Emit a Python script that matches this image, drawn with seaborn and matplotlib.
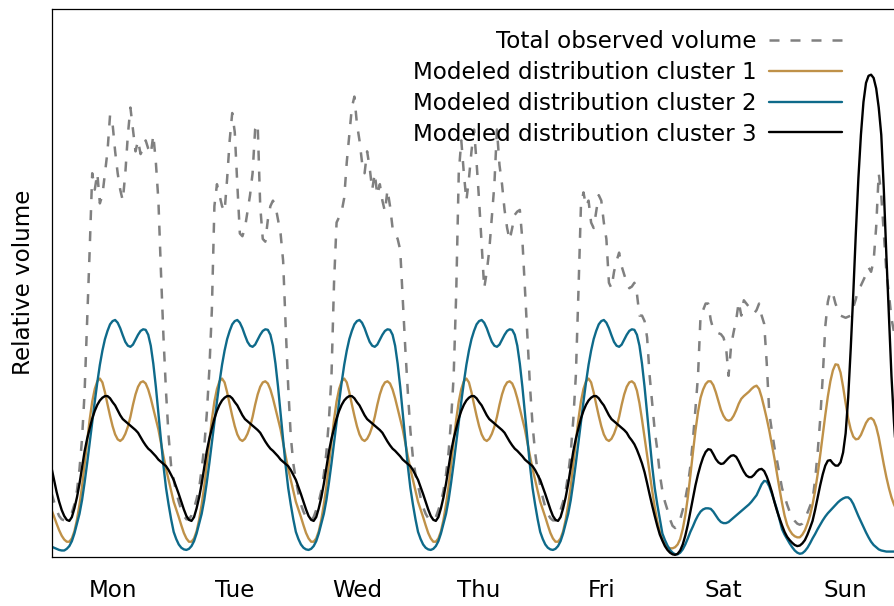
import numpy as np
import pandas as pd
import matplotlib
matplotlib.use("Agg")
import matplotlib.pyplot as plt
import seaborn as sns

DAYS = ["Mon", "Tue", "Wed", "Thu", "Fri", "Sat", "Sun"]

# Total observed volume, half-hourly values for each day (00:00 .. 23:30)
OBS_MON = [0.116, 0.100, 0.085, 0.074, 0.068, 0.066, 0.068, 0.072, 0.080, 0.095, 0.120, 0.160,
           0.215, 0.300, 0.430, 0.560, 0.700, 0.670, 0.700, 0.645, 0.660, 0.700, 0.740, 0.806,
           0.790, 0.740, 0.700, 0.670, 0.650, 0.700, 0.770, 0.820, 0.780, 0.740, 0.760, 0.735,
           0.745, 0.760, 0.745, 0.735, 0.770, 0.720, 0.650, 0.520, 0.400, 0.300, 0.220, 0.165]
OBS_TUE = [0.140, 0.118, 0.100, 0.085, 0.074, 0.068, 0.068, 0.075, 0.088, 0.105, 0.125, 0.160,
           0.200, 0.260, 0.340, 0.450, 0.640, 0.680, 0.660, 0.640, 0.630, 0.690, 0.760, 0.810,
           0.775, 0.680, 0.590, 0.585, 0.600, 0.630, 0.660, 0.700, 0.780, 0.790, 0.640, 0.580,
           0.575, 0.615, 0.640, 0.650, 0.640, 0.615, 0.590, 0.540, 0.420, 0.310, 0.220, 0.170]
OBS_WED = [0.140, 0.115, 0.095, 0.082, 0.072, 0.066, 0.066, 0.072, 0.085, 0.100, 0.120, 0.150,
           0.190, 0.250, 0.330, 0.500, 0.610, 0.620, 0.630, 0.655, 0.720, 0.770, 0.820, 0.840,
           0.790, 0.760, 0.720, 0.700, 0.740, 0.710, 0.670, 0.700, 0.660, 0.680, 0.650, 0.630,
           0.670, 0.640, 0.600, 0.590, 0.580, 0.560, 0.470, 0.380, 0.300, 0.230, 0.180, 0.150]
OBS_THU = [0.130, 0.108, 0.090, 0.078, 0.070, 0.066, 0.066, 0.072, 0.085, 0.100, 0.120, 0.150,
           0.190, 0.250, 0.330, 0.480, 0.700, 0.760, 0.700, 0.650, 0.690, 0.740, 0.780, 0.720,
           0.650, 0.570, 0.490, 0.520, 0.560, 0.620, 0.680, 0.780, 0.715, 0.680, 0.633, 0.600,
           0.578, 0.600, 0.624, 0.630, 0.633, 0.578, 0.490, 0.400, 0.310, 0.240, 0.190, 0.155]
OBS_FRI = [0.130, 0.108, 0.090, 0.078, 0.070, 0.066, 0.066, 0.072, 0.085, 0.100, 0.120, 0.150,
           0.190, 0.250, 0.330, 0.480, 0.640, 0.665, 0.640, 0.650, 0.610, 0.600, 0.630, 0.660,
           0.650, 0.610, 0.580, 0.500, 0.490, 0.520, 0.540, 0.555, 0.530, 0.515, 0.500, 0.490,
           0.493, 0.500, 0.480, 0.440, 0.440, 0.430, 0.400, 0.330, 0.280, 0.230, 0.195, 0.150]
OBS_SAT = [0.120, 0.100, 0.085, 0.068, 0.056, 0.052, 0.060, 0.068, 0.085, 0.105, 0.130, 0.165,
           0.213, 0.270, 0.330, 0.440, 0.450, 0.462, 0.462, 0.432, 0.415, 0.410, 0.408, 0.406,
           0.400, 0.383, 0.330, 0.385, 0.410, 0.432, 0.465, 0.440, 0.468, 0.462, 0.456, 0.452,
           0.444, 0.450, 0.462, 0.440, 0.425, 0.353, 0.262, 0.230, 0.200, 0.176, 0.150, 0.125]
OBS_SUN = [0.110, 0.095, 0.082, 0.072, 0.065, 0.060, 0.058, 0.060, 0.068, 0.080, 0.092, 0.103,
           0.140, 0.190, 0.250, 0.328, 0.420, 0.465, 0.485, 0.480, 0.462, 0.450, 0.440, 0.438,
           0.436, 0.438, 0.440, 0.455, 0.470, 0.490, 0.495, 0.505, 0.515, 0.528, 0.520, 0.540,
           0.602, 0.700, 0.660, 0.590, 0.520, 0.480, 0.435, 0.410, 0.380, 0.350, 0.320, 0.290]

# Modeled distributions, half-hourly day profiles (00:00 .. 23:30).
# *_MON_START covers Monday 00:00 .. 02:30, *_FRI_EVENING covers Friday 18:00 .. 23:30.
C1_MON_START = [0.085, 0.073, 0.060, 0.048, 0.038, 0.031]
C1_WEEKDAY = [0.100, 0.086, 0.072, 0.057, 0.043, 0.033, 0.027, 0.027, 0.033, 0.046, 0.067, 0.095,
              0.128, 0.168, 0.210, 0.250, 0.283, 0.306, 0.320, 0.325, 0.318, 0.300, 0.278, 0.257,
              0.238, 0.223, 0.214, 0.211, 0.215, 0.224, 0.237, 0.255, 0.277, 0.296, 0.310, 0.318,
              0.320, 0.316, 0.305, 0.289, 0.270, 0.251, 0.232, 0.207, 0.183, 0.160, 0.140, 0.120]
C1_FRI_EVENING = [0.320, 0.316, 0.303, 0.280, 0.250, 0.218, 0.185, 0.152, 0.120, 0.090, 0.064, 0.045]
C1_SAT = [0.031, 0.022, 0.017, 0.015, 0.015, 0.017, 0.022, 0.032, 0.050, 0.075, 0.108, 0.148,
          0.190, 0.230, 0.264, 0.290, 0.305, 0.315, 0.320, 0.320, 0.313, 0.300, 0.284, 0.268,
          0.257, 0.250, 0.248, 0.250, 0.257, 0.267, 0.279, 0.288, 0.293, 0.297, 0.301, 0.306,
          0.310, 0.312, 0.306, 0.291, 0.272, 0.252, 0.230, 0.205, 0.180, 0.152, 0.124, 0.098]
C1_SUN = [0.075, 0.058, 0.048, 0.041, 0.037, 0.035, 0.035, 0.040, 0.048, 0.060, 0.075, 0.095,
          0.120, 0.150, 0.185, 0.222, 0.258, 0.292, 0.320, 0.340, 0.351, 0.350, 0.336, 0.310,
          0.280, 0.252, 0.232, 0.219, 0.214, 0.215, 0.222, 0.233, 0.244, 0.251, 0.253, 0.249,
          0.237, 0.218, 0.193, 0.168, 0.145, 0.125, 0.108, 0.095, 0.085, 0.077, 0.070, 0.065]

C2_MON_START = [0.018, 0.016, 0.014, 0.012, 0.011, 0.011]
C2_WEEKDAY = [0.045, 0.032, 0.022, 0.016, 0.013, 0.012, 0.014, 0.019, 0.028, 0.042, 0.060, 0.078,
              0.103, 0.135, 0.170, 0.207, 0.245, 0.283, 0.318, 0.350, 0.376, 0.397, 0.412, 0.424,
              0.430, 0.432, 0.427, 0.417, 0.404, 0.392, 0.385, 0.383, 0.387, 0.396, 0.405, 0.412,
              0.415, 0.414, 0.405, 0.385, 0.352, 0.310, 0.262, 0.212, 0.165, 0.125, 0.095, 0.068]
C2_FRI_EVENING = [0.415, 0.414, 0.405, 0.385, 0.352, 0.310, 0.262, 0.212, 0.165, 0.125, 0.095, 0.068]
C2_SAT = [0.042, 0.030, 0.020, 0.012, 0.007, 0.004, 0.004, 0.007, 0.013, 0.022, 0.033, 0.045,
          0.055, 0.066, 0.075, 0.082, 0.086, 0.088, 0.088, 0.087, 0.082, 0.075, 0.068, 0.063,
          0.061, 0.061, 0.063, 0.067, 0.071, 0.075, 0.079, 0.083, 0.087, 0.091, 0.095, 0.100,
          0.106, 0.112, 0.122, 0.132, 0.138, 0.137, 0.128, 0.115, 0.101, 0.086, 0.068, 0.050]
C2_SUN = [0.040, 0.032, 0.024, 0.017, 0.011, 0.007, 0.005, 0.006, 0.010, 0.016, 0.024, 0.033,
          0.041, 0.050, 0.058, 0.066, 0.073, 0.079, 0.084, 0.089, 0.094, 0.099, 0.103, 0.106,
          0.108, 0.108, 0.104, 0.096, 0.085, 0.074, 0.064, 0.054, 0.044, 0.035, 0.027, 0.021,
          0.017, 0.013, 0.011, 0.010, 0.009, 0.009, 0.009, 0.009, 0.010, 0.010, 0.011, 0.012]

C3_MON_START = [0.162, 0.140, 0.118, 0.100, 0.085, 0.074]
C3_WEEKDAY = [0.140, 0.127, 0.114, 0.100, 0.086, 0.074, 0.067, 0.065, 0.072, 0.088, 0.108, 0.133,
              0.163, 0.192, 0.215, 0.234, 0.252, 0.266, 0.277, 0.285, 0.290, 0.293, 0.293, 0.289,
              0.282, 0.276, 0.267, 0.258, 0.251, 0.247, 0.243, 0.239, 0.235, 0.231, 0.226, 0.218,
              0.210, 0.203, 0.197, 0.193, 0.188, 0.183, 0.177, 0.173, 0.169, 0.165, 0.158, 0.149]
C3_FRI_EVENING = [0.212, 0.205, 0.195, 0.183, 0.170, 0.154, 0.134, 0.113, 0.093, 0.074, 0.056, 0.040]
C3_SAT = [0.029, 0.019, 0.012, 0.007, 0.004, 0.003, 0.005, 0.011, 0.022, 0.038, 0.058, 0.082,
          0.106, 0.130, 0.150, 0.167, 0.181, 0.191, 0.196, 0.195, 0.187, 0.178, 0.172, 0.169,
          0.170, 0.175, 0.180, 0.184, 0.185, 0.182, 0.174, 0.164, 0.155, 0.148, 0.145, 0.145,
          0.149, 0.155, 0.159, 0.160, 0.156, 0.146, 0.133, 0.118, 0.100, 0.084, 0.070, 0.057]
C3_SUN = [0.045, 0.036, 0.030, 0.025, 0.021, 0.019, 0.020, 0.024, 0.030, 0.040, 0.052, 0.065,
          0.085, 0.108, 0.130, 0.150, 0.166, 0.175, 0.176, 0.170, 0.166, 0.166, 0.172, 0.190,
          0.225, 0.290, 0.380, 0.480, 0.590, 0.690, 0.770, 0.830, 0.865, 0.878, 0.880, 0.874,
          0.855, 0.820, 0.770, 0.670, 0.550, 0.440, 0.330, 0.245, 0.175, 0.125, 0.090, 0.060]

LABELS = ["Total observed volume", "Modeled distribution cluster 1",
          "Modeled distribution cluster 2", "Modeled distribution cluster 3"]
COLORS = ["#808080", "#BF9148", "#0E6A8A", "#000000"]


def week(mon_start, weekday, fri_evening, sat, sun):
    """Assemble a Monday..Sunday half-hourly series from day profiles."""
    monday = mon_start + weekday[len(mon_start):]
    friday = weekday[:36] + fri_evening
    return monday + weekday * 3 + friday + sat + sun


observed = OBS_MON + OBS_TUE + OBS_WED + OBS_THU + OBS_FRI + OBS_SAT + OBS_SUN
models = [
    week(C1_MON_START, C1_WEEKDAY, C1_FRI_EVENING, C1_SAT, C1_SUN),
    week(C2_MON_START, C2_WEEKDAY, C2_FRI_EVENING, C2_SAT, C2_SUN),
    week(C3_MON_START, C3_WEEKDAY, C3_FRI_EVENING, C3_SAT, C3_SUN),
]
half_hours = np.arange(len(observed)) * 0.5

sns.set_theme(style="white")
plt.rcParams["font.family"] = ["DejaVu Sans"]
plt.rcParams["text.color"] = "black"
plt.rcParams["axes.labelcolor"] = "black"
plt.rcParams["xtick.color"] = "black"

W, H = 894, 606
FS = 16.6
fig = plt.figure(figsize=(W / 100, H / 100), dpi=100)
ax = fig.add_axes([51.5 / W, 49.5 / H, 1 - 51.5 / W, 547.5 / H])

obs_df = pd.DataFrame({"hour": half_hours, "volume": observed})
sns.lineplot(data=obs_df, x="hour", y="volume", ax=ax, color=COLORS[0],
             linewidth=1.8, linestyle=(0, (4, 4.4)), legend=False)
for vals, col in zip(models, COLORS[1:]):
    df = pd.DataFrame({"hour": half_hours, "volume": vals})
    sns.lineplot(data=df, x="hour", y="volume", ax=ax, color=col,
                 linewidth=1.7, legend=False)

ax.set_xlim(0, 165.5)
ax.set_ylim(0, 1)
ax.set_xticks([12 + 24 * i for i in range(7)])
ax.set_xticklabels(DAYS, fontsize=FS)
ax.set_yticks([])
ax.tick_params(axis="x", length=0, pad=16)
ax.set_xlabel("")
ax.set_ylabel("Relative volume", fontsize=FS)
ax.yaxis.set_label_coords(-0.020, 0.5)

for side in ["left", "bottom", "top"]:
    ax.spines[side].set_visible(True)
    ax.spines[side].set_color("black")
    ax.spines[side].set_linewidth(0.9)
ax.spines["right"].set_visible(False)

leg = ax.legend(ax.get_lines(), LABELS, loc="upper right",
                bbox_to_anchor=(842 / W, 1 - 30 / H), bbox_transform=fig.transFigure,
                frameon=False, markerfirst=False, handlelength=3.15, handletextpad=0.55,
                labelspacing=0.34, borderpad=0, borderaxespad=0, fontsize=FS)
for t in leg.get_texts():
    t.set_color("black")

fig.savefig("out.png", dpi=100)
